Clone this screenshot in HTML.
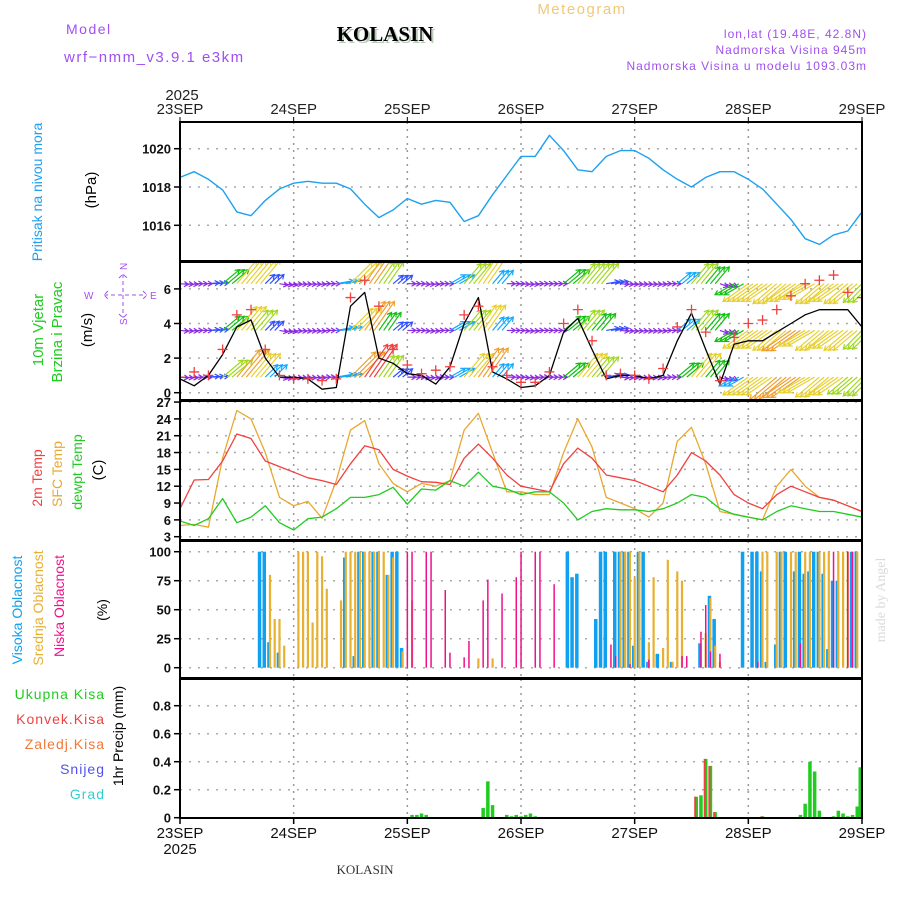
<!DOCTYPE html>
<html><head><meta charset="utf-8">
<style>
html,body{margin:0;padding:0;background:#fff;}
svg{display:block;font-family:"Liberation Sans",sans-serif;}
</style></head>
<body>
<svg id="chart" width="900" height="900" viewBox="0 0 900 900" xmlns="http://www.w3.org/2000/svg">
  <text x="66" y="34" font-size="14" fill="#a050f0" letter-spacing="1.5">Model</text>
  <text x="64" y="62" font-size="15" fill="#a050f0" letter-spacing="1.5">wrf−nmm_v3.9.1 e3km</text>
  <text x="387" y="43" font-size="21" font-weight="bold" fill="#b8ccb8" text-anchor="middle" font-family="Liberation Serif,serif">KOLASIN</text>
  <text x="385" y="41" font-size="21" font-weight="bold" fill="#000" text-anchor="middle" font-family="Liberation Serif,serif">KOLASIN</text>
  <text x="582" y="14" font-size="15" fill="#f0c878" text-anchor="middle" letter-spacing="1.5">Meteogram</text>
  <text x="867" y="38" font-size="12" fill="#a050f0" text-anchor="end" letter-spacing="1">lon,lat (19.48E, 42.8N)</text>
  <text x="867" y="54" font-size="12" fill="#a050f0" text-anchor="end" letter-spacing="1">Nadmorska Visina 945m</text>
  <text x="867" y="70" font-size="12" fill="#a050f0" text-anchor="end" letter-spacing="1">Nadmorska Visina u modelu 1093.03m</text>
  <text x="365" y="874" font-size="13" fill="#333" text-anchor="middle" font-family="Liberation Serif,serif">KOLASIN</text>
  <text transform="translate(885,600) rotate(-90)" font-size="14" fill="#d8dcd8" text-anchor="middle" font-family="Liberation Serif,serif">made by Angel</text>
  <defs>
    <clipPath id="pclip"><rect x="180" y="122" width="682" height="139"/></clipPath>
    <clipPath id="wclip"><rect x="180" y="262" width="682" height="138"/></clipPath>
    <clipPath id="tclip"><rect x="180" y="401" width="682" height="139"/></clipPath>
  </defs>
  <g id="g"></g>
</svg>
<script>
// ---------- DATA ----------
const dayLabels = ["23SEP","24SEP","25SEP","26SEP","27SEP","28SEP","29SEP"];
const yearLabel = "2025";
// 3-hourly series (49 points, 23SEP 00 .. 29SEP 00)
const pressure = [1018.5,1018.8,1018.4,1017.85,1016.7,1016.5,1017.3,1017.9,1018.2,
  1018.3,1018.2,1018.2,1017.9,1017.1,1016.4,1016.8,1017.4,
  1017.1,1017.3,1017.2,1016.2,1016.5,1017.6,1018.6,1019.6,
  1019.6,1020.7,1019.9,1018.9,1018.8,1019.6,1019.9,1019.9,
  1019.5,1018.9,1018.4,1018.0,1018.5,1018.8,1018.8,1018.4,
  1017.9,1017.1,1016.3,1015.3,1015.0,1015.5,1015.7,1016.7];
const windSpeed = [0.8,0.4,1.0,2.2,3.8,4.2,2.0,0.9,0.9,
  0.8,0.2,0.3,5.0,5.8,2.0,1.7,1.1,
  1.0,0.5,1.5,4.0,5.5,1.2,0.8,0.3,
  0.4,1.0,3.5,4.3,2.5,0.8,1.0,1.0,
  0.8,1.0,3.0,4.6,2.5,0.5,2.8,3.0,
  3.0,3.5,4.0,4.5,4.8,4.8,4.8,3.8];
const windGust = [0.9,1.2,1.0,2.5,4.5,4.8,2.5,1.0,0.8,
  0.8,0.7,0.8,5.5,6.5,5.0,2.5,1.6,
  1.1,1.3,1.5,4.5,5.0,1.5,1.0,0.6,
  0.6,1.2,4.0,4.8,3.0,1.0,1.1,1.0,
  0.8,1.4,3.8,4.8,3.5,0.7,3.2,4.0,
  4.2,4.8,5.6,6.3,6.5,6.8,5.8,5.5];
const windDir = [95,90,85,50,40,40,45,100,95,
  95,90,80,45,35,35,50,90,
  95,90,60,40,35,40,90,95,
  90,90,50,40,40,80,95,95,
  95,90,50,40,40,110,240,235,
  235,230,235,240,230,235,230,225];
const arrowSpdLow = [1,1,1.5,5,7,6,3,1,1, 1,1,3,7,8,5,2,1, 1,1,3,6,7,3,1,1, 1,1,4,6,5,2,1,1, 1,1,4,6,4,1,3,6, 6,7,7,6,6,6,5,5];
const arrowSpdMid = [1,1,1.5,4,6,5,2,1,1, 1,1,3,6,7,4,2,1, 1,1,3,5,6,3,1,1, 1,1,4,5,4,2,1,1, 1,1,3,5,4,1,4,6, 6,6,7,6,6,6,6,5];
const arrowSpdHigh = [1,1,1.5,4,6,6,2,1,1, 1,1,3,6,7,5,2,1, 1,1,3,5,6,3,1,1, 1,1,4,5,5,2,1,1, 1,1,3,5,4,1,4,6, 6,6,6,6,6,6,6,5];
const temp2m = [8,13.1,13.2,16.5,21.3,20.5,16.5,15.5,14.5,
  13.5,13,12.3,16,19.2,18.5,15,13.8,
  12.8,12.7,12.3,17,19.5,17,14,12,
  11.5,11,16,18.8,17,14,13.5,13,
  12,11,14,18,16.5,14,10.5,9,
  8,10.5,12,11,10,9.5,8.5,7.5];
const tempSfc = [5,5.2,4.7,17,25.5,24,18,10,8.5,
  9.3,6.3,13,22,23.7,16,12.5,11,
  12.5,12,13,22,25,18,11,11,
  10.5,10.5,18,24,19,10,9,8,
  6.5,9,20,22.5,16,7.5,7,6.5,
  6,12,15,12,10,9.5,8.5,7.5];
const dewpt = [5.8,5.0,6.2,9.8,5.5,6.5,8.5,5.5,4.2,
  6.2,6.5,8,10,10,10.5,11.8,8.8,
  11.5,11.3,13,12,14.5,12,11.5,10.5,
  11,11,9,6,7.5,8,7.8,7.8,
  7.5,8,9,10.5,10,8,7,6.5,
  6,7.5,8.5,8,7.5,7.5,7,6.5];
// hourly cloud bars: [hour, percent]
const cloudHigh = [[17,100],[18,100],[19,22],[21,13],[35,95],[37,10],[38,100],[39,100],[41,100],[42,100],[44,80],[45,100],[46,100],[47,17],
  [82,100],[83,78],[84,81],[88,42],[89,100],[90,100],[92,100],[93,100],[94,100],[95,100],[96,19],[97,100],[98,100],[99,5],[101,12],[104,5],[110,21],[112,62],[113,42],
  [119,100],[121,100],[122,100],[123,83],[124,5],[126,20],[127,100],[128,100],[130,83],[131,100],[132,81],[133,83],[134,100],[135,100],[136,81],[137,16],[138,75],[139,75],[142,100],[143,100]];
const cloudMid = [[19,80],[20,42],[21,42],[22,19],[25,100],[26,100],[27,100],[28,39],[29,100],[30,96],[31,68],[34,58],[35,100],[36,100],[37,100],[38,100],[39,100],[40,100],[41,100],[42,100],[43,100],[44,80],[45,95],[47,14],[49,58],[63,8],[66,8],
  [93,100],[94,100],[95,100],[96,78],[97,100],[99,22],[100,78],[102,17],[103,93],[104,5],[105,83],[106,75],[111,30],[112,60],[113,19],[114,5],
  [123,100],[124,100],[126,100],[127,100],[129,100],[130,100],[132,100],[133,100],[135,100],[136,100],[137,100],[139,100],[140,100],[141,100],[143,100]];
const cloudLow = [[48,100],[49,100],[52,100],[53,100],[56,67],[57,13],[60,9],[61,23],[64,58],[65,76],[68,64],[71,78],[72,100],[75,100],[76,100],[79,72],
  [91,20],[92,10],[95,3],[99,7],[106,10],[107,10],[110,31],[111,54],[112,14],[114,12],[122,5],[131,21],[138,100],[141,100],[142,100]];
// hourly precip: [hour, mm]
const precipTotal = [[49,0.02],[50,0.02],[51,0.03],[52,0.02],[64,0.07],[65,0.26],[66,0.09],[69,0.02],[70,0.01],[71,0.02],[72,0.01],[73,0.02],[74,0.03],[75,0.01],
  [109,0.15],[110,0.16],[111,0.42],[112,0.37],[113,0.04],[123,0.01],[131,0.02],[132,0.1],[133,0.4],[134,0.33],[135,0.05],[138,0.01],[139,0.05],[140,0.03],[141,0.01],[142,0.02],[143,0.08],[144,0.36]];
const precipConv = [[109,0.15],[111,0.42],[112,0.37],[113,0.04],[123,0.01]];
const pTicks = [1016,1018,1020];
const wTicks = [0,2,4,6];
const tTicks = [3,6,9,12,15,18,21,24,27];
const cTicks = [0,25,50,75,100];
const rTicks = [0,0.2,0.4,0.6,0.8];

// ---------- LAYOUT ----------
const X0=180, X1=862;
const xH = h => X0 + (X1-X0)*h/144;
const x3 = i => xH(i*3);
const panels = {
  p:{top:122,bot:261,lin:v=>148.7+(1020-v)*19.15},
  w:{top:262,bot:400,lin:v=>392.7-v*17.3},
  t:{top:401,bot:540,lin:v=>536.7-(v-3)*5.61},
  c:{top:541,bot:678,lin:v=>667.7-v*1.16},
  r:{top:679,bot:818,lin:v=>817.7-v*140}
};
const NS="http://www.w3.org/2000/svg";
const G=document.getElementById('g');
function mk(tag,attrs,parent){const e=document.createElementNS(NS,tag);for(const k in attrs)e.setAttribute(k,attrs[k]);(parent||G).appendChild(e);return e;}
function txt(s,attrs,parent){const e=mk('text',attrs,parent);e.textContent=s;return e;}

function panelFrame(key,ticks,fmt,name){
  const P=panels[key];
  const g=mk('g',{});
  
  
  for(let d=1;d<6;d++){
    const l=mk('line',{x1:xH(d*24),x2:xH(d*24),y1:P.top,y2:P.bot,stroke:'#999','stroke-dasharray':'2,5','stroke-width':1.5},g);
    
    
  }
  ticks.forEach(t=>{
    const y=P.lin(t);
    const l=mk('line',{x1:X0,x2:X1,y1:y,y2:y,stroke:'#aaa','stroke-dasharray':'2,7','stroke-width':1.5},g);
    
    
    mk('line',{x1:X0-6,x2:X0,y1:y,y2:y,stroke:'#000','stroke-width':1.5},g);
    const tx=txt(fmt(t),{x:X0-9,y:y+5,'font-size':13,'font-weight':'bold','text-anchor':'end',fill:'#111'},g);
    
    
  });
  return g;
}
panelFrame('p',pTicks,v=>v,'pressure');
panelFrame('w',wTicks,v=>v,'wind');
panelFrame('t',tTicks,v=>v,'temperature');
panelFrame('c',cTicks,v=>v,'cloud');
panelFrame('r',rTicks,v=>v===0?'0':v.toFixed(1),'precip');

const pG=mk('g',{'clip-path':'url(#pclip)'});
const wG=mk('g',{'clip-path':'url(#wclip)'});
const tG=mk('g',{'clip-path':'url(#tclip)'});

function poly(arr,key,color,name,w,parent){
  const P=panels[key];
  const pts=arr.map((v,i)=>x3(i).toFixed(1)+','+P.lin(v).toFixed(1)).join(' ');
  const e=mk('polyline',{points:pts,fill:'none',stroke:color,'stroke-width':w||1.3,'stroke-linejoin':'round'},parent);
  
  
}
poly(pressure,'p','#1ea0f0','pressure-line',1.4,pG);

const spdColor=s=>s<1.5?'#8a2be2':s<2.5?'#3050ff':s<3.5?'#10a8ff':s<4.5?'#10c010':s<5.5?'#a0d820':s<6.5?'#e8d030':s<7.5?'#f0a030':'#f04040';
function arrowRow(spds,base,name){
  const P=panels.w;
  const g=mk('g',{},wG);
  
  
  spds.forEach((s,i)=>{
    const a=windDir[i]*Math.PI/180, L=4+s*4.5;
    const dx=Math.sin(a)*L, dy=-Math.cos(a)*L;
    const c=spdColor(s);
    const ah=Math.atan2(dy,dx);
    const a1=ah+2.6,a2=ah-2.6;
    for(let k=0;k<3;k++){
      const x=x3(i)+k*4.74, y=P.lin(base);
      const x2=x+dx,y2=y+dy;
      const p=mk('path',{d:`M${x},${y}L${x2},${y2}M${x2+Math.cos(a1)*5},${y2+Math.sin(a1)*5}L${x2},${y2}L${x2+Math.cos(a2)*5},${y2+Math.sin(a2)*5}`,stroke:c,'stroke-width':1.2,fill:'none'},g);
      
      
    }
  });
}
arrowRow(arrowSpdLow,0.9,'wind-arrows-low');
arrowRow(arrowSpdMid,3.6,'wind-arrows-mid');
arrowRow(arrowSpdHigh,6.3,'wind-arrows-high');
poly(windSpeed,'w','#000','wind-speed-line',1.3,wG);
windGust.forEach((v,i)=>{
  const x=x3(i),y=panels.w.lin(v);
  const p=mk('path',{d:`M${x-5},${y}H${x+5}M${x},${y-5}V${y+5}`,stroke:'#f04040','stroke-width':1.3},wG);
  
  
});

poly(tempSfc,'t','#e8a830','sfc-temp-line',1.3,tG);
poly(temp2m,'t','#f04040','temp-2m-line',1.3,tG);
poly(dewpt,'t','#20cc20','dewpoint-line',1.3,tG);

function bars(arr,key,color,w,off,name){
  const P=panels[key];
  arr.forEach(([h,v])=>{
    const x=Math.min(xH(h)+off, X1-w/2), y=P.lin(v), y0=P.lin(0);
    const r=mk('rect',{x:(x-w/2).toFixed(1),y:y.toFixed(1),width:w,height:Math.max(0,y0-y).toFixed(1),fill:color});
    
    
  });
}
bars(cloudHigh,'c','#10a0f0',3.5,-1,'high-cloud-bar');
bars(cloudMid,'c','#e8b030',2.2,0,'mid-cloud-bar');
bars(cloudLow,'c','#f0108c',1.5,0,'low-cloud-bar');
bars(precipTotal,'r','#20cc20',3.5,0,'total-precip-bar');
bars(precipConv,'r','#f04040',2,-1,'convective-precip-bar');

Object.keys(panels).forEach(k=>{
  const P=panels[k];
  const r=mk('rect',{x:X0,y:P.top,width:X1-X0,height:P.bot-P.top,fill:'none',stroke:'#000','stroke-width':2});
  
  
});

dayLabels.forEach((d,i)=>{
  const x=xH(i*24);
  const a=txt(d,{x:x,y:114,'font-size':15,'text-anchor':'middle',fill:'#222'});
  
  
  mk('line',{x1:x,x2:x,y1:117,y2:122,stroke:'#000'});
  const b=txt(d,{x:x,y:838,'font-size':15,'text-anchor':'middle',fill:'#111'});
  
  
  mk('line',{x1:x,x2:x,y1:818,y2:824,stroke:'#000','stroke-width':1.5});
});
const y1=txt(yearLabel,{x:182,y:100,'font-size':15,'text-anchor':'middle',fill:'#222'});


const y2=txt(yearLabel,{x:180,y:854,'font-size':15,'text-anchor':'middle',fill:'#111'});



function rot(s,x,y,color,size,name){
  const e=txt(s,{transform:`translate(${x},${y}) rotate(-90)`,'font-size':size||14,fill:color,'text-anchor':'middle'});
  
  
}
rot('Pritisak na nivou mora',42,192,'#1ea0f0',14,'pressure-title');
rot('(hPa)',96,190,'#000',15,'pressure-unit');
rot('10m Vjetar',43,330,'#20cc20',15,'wind-title-1');
rot('Brzina i Pravac',62,332,'#20cc20',15,'wind-title-2');
rot('(m/s)',92,330,'#000',15,'wind-unit');
rot('2m Temp',42,478,'#f04040',14,'temp-2m-title');
rot('SFC Temp',62,474,'#e8a830',14,'sfc-temp-title');
rot('dewpt Temp',82,472,'#20cc20',14,'dewpoint-title');
rot('(C)',103,470,'#000',15,'temp-unit');
rot('Visoka Oblacnost',22,610,'#10a0f0',14,'high-cloud-title');
rot('Srednja Oblacnost',43,608,'#e8b030',14,'mid-cloud-title');
rot('Niska Oblacnost',64,606,'#f0108c',14,'low-cloud-title');
rot('(%)',107,610,'#000',14,'cloud-unit');
rot('1hr Precip (mm)',123,736,'#000',14,'precip-title');
[['Ukupna  Kisa','#20cc20',699],['Konvek.Kisa','#f04040',724],['Zaledj.Kisa','#f07838',749],['Snijeg','#5050f0',774],['Grad','#30d0d0',799]].forEach(([s,c,y])=>{
  const e=txt(s,{x:105,y:y,'font-size':14,fill:c,'text-anchor':'end','letter-spacing':'1'});
  
  
});
const cg=mk('g',{fill:'#a050f0','font-size':10});


txt('W',{x:84,y:299},cg);
txt('E',{x:150,y:299},cg);
mk('path',{d:'M104,295H147M123,274V318M108,291L104,295L108,299M143,291L147,295L143,299M119,278L123,274L127,278M119,314L123,318L127,314',stroke:'#a050f0','stroke-dasharray':'4,3',fill:'none'},cg);
txt('N',{transform:'translate(127,270) rotate(-90)'},cg);
txt('S',{transform:'translate(127,325) rotate(-90)'},cg);
</script>
</body></html>
